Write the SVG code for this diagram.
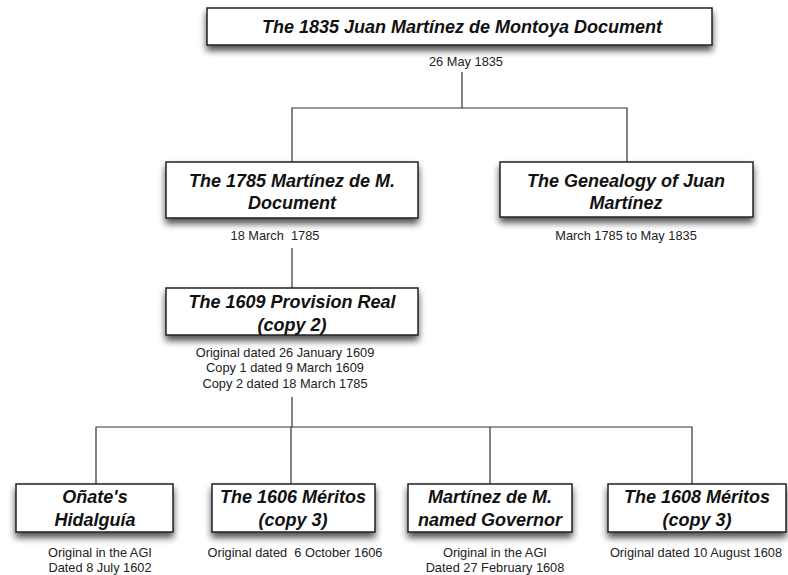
<svg xmlns="http://www.w3.org/2000/svg" width="788" height="575" viewBox="0 0 788 575">
<defs>
<filter id="sh" x="-10%" y="-20%" width="120%" height="170%">
<feGaussianBlur in="SourceAlpha" stdDeviation="3.5"/>
<feOffset dx="0" dy="5" result="b"/>
<feComponentTransfer><feFuncA type="linear" slope="0.7"/></feComponentTransfer>
<feMerge><feMergeNode/><feMergeNode in="SourceGraphic"/></feMerge>
</filter>
</defs>
<style>
.box{fill:#fff;stroke:#222;stroke-width:1.5;filter:url(#sh)}
.t{font-family:"Liberation Sans",Arial,sans-serif;font-weight:bold;font-style:italic;font-size:18px;fill:#111;text-anchor:middle}
.s{font-family:"Liberation Sans",Arial,sans-serif;font-size:12.8px;fill:#222;text-anchor:middle;white-space:pre}
.c{fill:none;stroke:#333;stroke-width:1.2}
</style>
<rect width="788" height="575" fill="#fff"/>
<g id="connectors">
<path class="c" d="M462,72 V108 M292,162 V108 H627 V162"/>
<path class="c" d="M292,248 V288"/>
<path class="c" d="M292,397 V427 M96,484 V427 H692 V484 M291,427 V484 M490,427 V484"/>
</g>
<g id="n1">
<rect class="box" x="207" y="8" width="505" height="37"/>
<text class="t" x="462" y="33">The 1835 Juan Martínez de Montoya Document</text>
<text class="s" x="466" y="66">26 May 1835</text>
</g>
<g id="n2">
<rect class="box" x="166" y="162" width="252" height="56"/>
<text class="t" x="292" y="187">The 1785 Martínez de M.</text>
<text class="t" x="292" y="209">Document</text>
<text class="s" x="275" y="240">18 March  1785</text>
</g>
<g id="n3">
<rect class="box" x="500" y="162" width="253" height="55"/>
<text class="t" x="626" y="187">The Genealogy of Juan</text>
<text class="t" x="626" y="209">Martínez</text>
<text class="s" x="626" y="240">March 1785 to May 1835</text>
</g>
<g id="n4">
<rect class="box" x="166" y="288" width="252" height="47"/>
<text class="t" x="292" y="308">The 1609 Provision Real</text>
<text class="t" x="292" y="331">(copy 2)</text>
<text class="s" x="285" y="357">Original dated 26 January 1609</text>
<text class="s" x="285" y="372">Copy 1 dated 9 March 1609</text>
<text class="s" x="285" y="388">Copy 2 dated 18 March 1785</text>
</g>
<g id="n5">
<rect class="box" x="16" y="484" width="157" height="48"/>
<text class="t" x="95" y="503">Oñate's</text>
<text class="t" x="95" y="526">Hidalguía</text>
<text class="s" x="100" y="557">Original in the AGI</text>
<text class="s" x="100" y="572">Dated 8 July 1602</text>
</g>
<g id="n6">
<rect class="box" x="212" y="484" width="163" height="48"/>
<text class="t" x="293" y="503">The 1606 Méritos</text>
<text class="t" x="293" y="526">(copy 3)</text>
<text class="s" x="295" y="557">Original dated  6 October 1606</text>
</g>
<g id="n7">
<rect class="box" x="408" y="484" width="164" height="48"/>
<text class="t" x="490" y="503">Martínez de M.</text>
<text class="t" x="490" y="526">named Governor</text>
<text class="s" x="495" y="557">Original in the AGI</text>
<text class="s" x="495" y="572">Dated 27 February 1608</text>
</g>
<g id="n8">
<rect class="box" x="608" y="484" width="178" height="48"/>
<text class="t" x="697" y="503">The 1608 Méritos</text>
<text class="t" x="697" y="526">(copy 3)</text>
<text class="s" x="696" y="557">Original dated 10 August 1608</text>
</g>
</svg>
